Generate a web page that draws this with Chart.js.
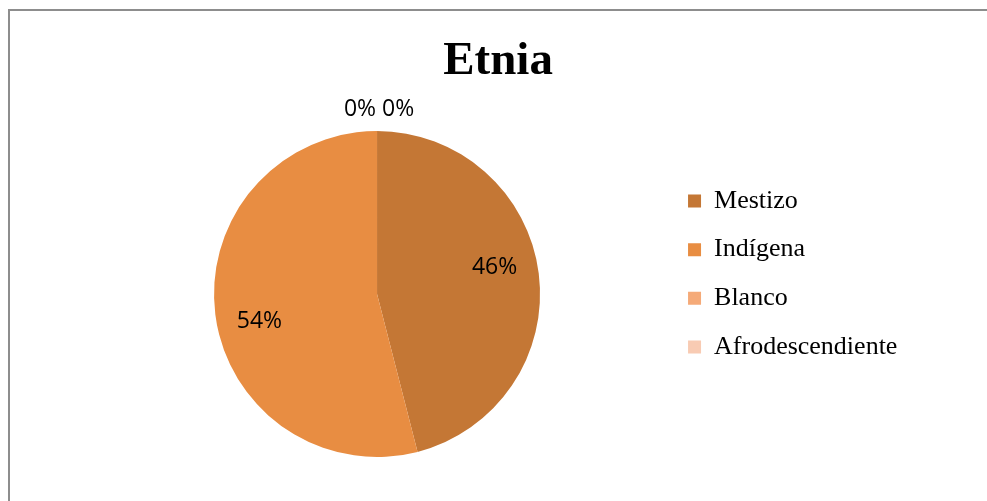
<!DOCTYPE html>
<html>
<head>
<meta charset="utf-8">
<script src="https://cdn.jsdelivr.net/npm/chart.js@4.4.1/dist/chart.umd.min.js"></script>
<style>
  html, body { margin: 0; padding: 0; background: #ffffff; }
  body { width: 987px; height: 501px; position: relative; overflow: hidden; }
  #frame { position: absolute; left: 8px; top: 9px; width: 1200px; height: 800px;
           border-left: 2px solid #8d8d8d; border-top: 2px solid #8d8d8d; }
  #wrap { position: absolute; left: 0; top: 0; width: 987px; height: 501px; }
</style>
</head>
<body>
<div id="frame"></div>
<div id="wrap"><canvas id="c" width="987" height="501"></canvas></div>
<script>
// ---- data ----
const categories = ['Mestizo', 'Indígena', 'Blanco', 'Afrodescendiente'];
const values = [46, 54, 0, 0];
const colors = ['#C47735', '#E88D42', '#F5AA78', '#F8CBB3'];
const chartTitle = 'Etnia';

// percentage labels drawn from the arcs the library laid out
const pieLabels = {
  id: 'pieLabels',
  afterDatasetsDraw(chart) {
    const ctx = chart.ctx;
    const meta = chart.getDatasetMeta(0);
    const data = chart.data.datasets[0].data;
    const total = data.reduce((a, b) => a + b, 0);
    ctx.save();
    ctx.font = '23px "Open Sans"';
    ctx.fillStyle = '#000000';
    ctx.textAlign = 'center';
    ctx.textBaseline = 'middle';
    const zeros = [];
    let zeroAngle = null, zx = 0, zy = 0, zr = 0;
    meta.data.forEach((arc, i) => {
      const p = arc.getProps(['x', 'y', 'startAngle', 'endAngle', 'outerRadius'], true);
      const pct = Math.round(data[i] / total * 100) + '%';
      if (data[i] === 0) {
        zeros.push(pct);
        zeroAngle = p.startAngle; zx = p.x; zy = p.y; zr = p.outerRadius;
        return;
      }
      const mid = (p.startAngle + p.endAngle) / 2 - 0.1;
      const r = p.outerRadius * 0.74;
      ctx.fillText(pct, p.x + Math.cos(mid) * r, p.y + Math.sin(mid) * r);
    });
    if (zeros.length) {
      const r = zr + 22;
      ctx.fillText(zeros.join(' '), zx + Math.cos(zeroAngle) * r + 2, zy + Math.sin(zeroAngle) * r);
    }
    ctx.restore();
  }
};

new Chart(document.getElementById('c'), {
  type: 'pie',
  data: {
    labels: categories,
    datasets: [{
      data: values,
      backgroundColor: colors,
      borderWidth: 0,
      hoverOffset: 0
    }]
  },
  options: {
    responsive: false,
    animation: false,
    layout: { padding: { left: 88.7, right: 79.6, top: 0, bottom: 44 } },
    plugins: {
      tooltip: { enabled: false },
      title: {
        display: true,
        text: chartTitle,
        color: '#000000',
        font: { family: '"Liberation Serif", "Times New Roman", serif', size: 47, weight: 'bold' },
        padding: { top: 33.4, bottom: 41.2 }
      },
      legend: {
        display: true,
        position: 'right',
        align: 'center',
        title: { display: true, text: '', font: { size: 12 }, padding: { top: 76.6, bottom: 0 } },
        labels: {
          color: '#000000',
          font: { family: '"Liberation Serif", "Times New Roman", serif', size: 26 },
          boxWidth: 13,
          boxHeight: 13,
          padding: 22.67
        }
      }
    }
  },
  plugins: [pieLabels]
});
</script>
</body>
</html>
